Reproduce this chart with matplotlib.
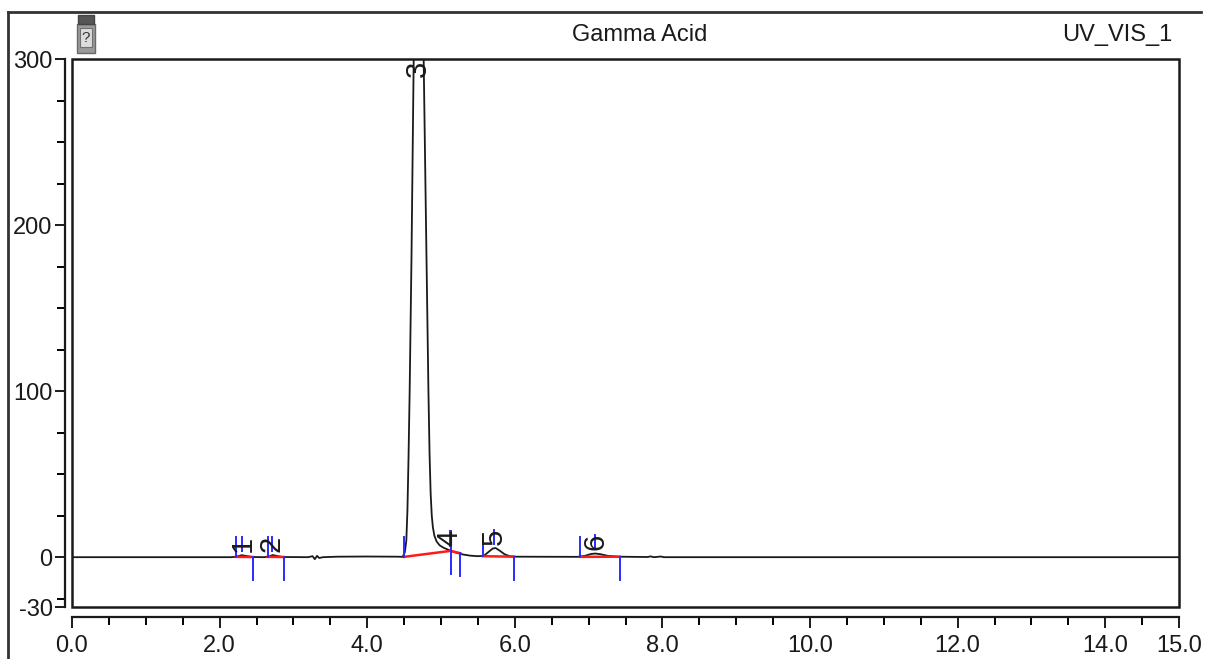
import matplotlib.pyplot as plt
from matplotlib.patches import Rectangle
from matplotlib.lines import Line2D

plt.rcParams['font.family'] = ['Liberation Sans', 'DejaVu Sans']

# chromatogram trace (min, mAU)
trace_t = [0.0, 2.15, 2.22, 2.30, 2.38, 2.45, 2.60, 2.66, 2.72, 2.80, 2.87,
           3.20, 3.26, 3.29, 3.32, 3.35, 3.40, 3.60, 4.00, 4.40, 4.48,
           4.51, 4.53, 4.545, 4.56, 4.575, 4.60, 4.63, 4.68, 4.73, 4.765,
           4.797, 4.83, 4.845, 4.86, 4.875, 4.89, 4.91, 4.94, 4.98, 5.03,
           5.09, 5.15, 5.22, 5.30, 5.40, 5.50, 5.58, 5.64, 5.70, 5.74,
           5.80, 5.86, 5.93, 6.00, 6.85, 6.95, 7.03, 7.09, 7.16, 7.26,
           7.40, 7.80, 7.84, 7.88, 7.98, 8.02, 8.30, 15.0]
trace_y = [0.0, 0.0, 0.2, 1.2, 0.6, 0.1, 0.0, 0.3, 1.3, 0.5, 0.1,
           0.0, 0.6, -1.2, 0.8, -0.5, 0.0, 0.3, 0.4, 0.3, 0.2,
           3.0, 10.0, 28.0, 60.0, 99.0, 180.0, 300.0, 520.0, 410.0, 300.0,
           200.0, 99.0, 62.0, 38.0, 25.0, 18.0, 13.0, 9.5, 7.2, 5.8,
           4.6, 3.5, 2.5, 1.6, 0.9, 0.6, 0.8, 3.0, 5.2, 5.5,
           3.8, 1.8, 0.6, 0.3, 0.2, 0.8, 1.9, 2.2, 1.8, 0.8,
           0.3, 0.1, 0.5, 0.0, 0.4, 0.0, 0.0, 0.0]

peak_ids = ['1', '2', '3', '4', '5', '6']
peak_apex_t = [2.31, 2.71, 4.68, 5.12, 5.72, 7.09]
peak_apex_h = [1.2, 1.3, 520.0, 4.5, 5.5, 2.2]
peak_start_t = [2.22, 2.65, 4.50, 5.13, 5.565, 6.89]
peak_start_y = [0.2, 0.2, 0.2, 3.8, 0.6, 0.2]
peak_end_t = [2.45, 2.87, 5.13, 5.26, 5.99, 7.42]
peak_end_y = [0.1, 0.1, 3.8, 2.4, 0.3, 0.3]

x_major = [0.0, 2.0, 4.0, 6.0, 8.0, 10.0, 12.0, 14.0, 15.0]
x_minor = [i * 0.5 for i in range(31)]
y_major = [-30, 0, 100, 200, 300]
y_minor = [-25, 25, 50, 75, 125, 150, 175, 225, 250, 275]

W, H = 1210, 659
fig = plt.figure(figsize=(W / 100, H / 100), dpi=100)
ax = fig.add_axes([72 / W, 1 - 607 / H, (1179 - 72) / W, (607 - 59) / H])

ax.plot(trace_t, trace_y, color='#1a1a1a', lw=1.3, zorder=3)

for i in range(len(peak_ids)):
    ax.plot([peak_start_t[i], peak_end_t[i]], [peak_start_y[i], peak_end_y[i]],
            color='#ff1a1a', lw=1.8, zorder=4)
    ax.plot([peak_start_t[i], peak_start_t[i]], [peak_start_y[i], peak_start_y[i] + 12],
            color='#2a2aff', lw=1.4, zorder=5)
    ax.plot([peak_end_t[i], peak_end_t[i]], [peak_end_y[i], peak_end_y[i] - 14],
            color='#2a2aff', lw=1.4, zorder=5)
    h = peak_apex_h[i]
    if h < 300:
        ax.plot([peak_apex_t[i], peak_apex_t[i]], [h + 2.5, h + 11],
                color='#2a2aff', lw=1.4, zorder=5)
        ax.text(peak_apex_t[i], h + 2.0, peak_ids[i], rotation=90, ha='center',
                va='bottom', fontsize=21, color='#1a1a1a', zorder=6)
    else:
        ax.text(peak_apex_t[i], 299, peak_ids[i], rotation=90, ha='center',
                va='top', fontsize=21, color='#1a1a1a', zorder=6)

ax.set_xlim(0, 15)
ax.set_ylim(-30, 300)

for s in ['top', 'right']:
    ax.spines[s].set_visible(False)
ax.spines['left'].set_position(('outward', 5))
ax.spines['bottom'].set_position(('outward', 7.5))
for s in ['left', 'bottom']:
    ax.spines[s].set_linewidth(1.6)
    ax.spines[s].set_color('#1a1a1a')
ax.add_patch(Rectangle((0, 0), 1, 1, transform=ax.transAxes, fill=False,
                       lw=1.8, edgecolor='#1a1a1a', clip_on=False, zorder=2))

ax.set_xticks(x_major)
ax.set_xticklabels(['%.1f' % v for v in x_major])
ax.set_xticks(x_minor, minor=True)
ax.set_yticks(y_major)
ax.set_yticklabels([str(v) for v in y_major])
ax.set_yticks(y_minor, minor=True)
ax.tick_params(axis='x', which='major', direction='out', length=8, width=1.4,
               labelsize=17, pad=5, colors='#1a1a1a')
ax.tick_params(axis='x', which='minor', direction='out', length=5.5, width=1.4)
ax.tick_params(axis='y', which='major', direction='out', length=7, width=1.4,
               labelsize=17, pad=2, colors='#1a1a1a')
ax.tick_params(axis='y', which='minor', direction='out', length=6, width=1.4)

# outer frame (top and left only)
fig.add_artist(Line2D([8 / W, 1201 / W], [1 - 12 / H, 1 - 12 / H], color='#333333', lw=2))
fig.add_artist(Line2D([8 / W, 8 / W], [1 - 12 / H, 0], color='#333333', lw=2))

# little vial icon
fig.add_artist(Rectangle((77 / W, 1 - 53 / H), 18 / W, 29 / H, facecolor='#9a9a9a',
                         edgecolor='#6a6a6a', lw=1))
fig.add_artist(Rectangle((78 / W, 1 - 24 / H), 16 / W, 9 / H, facecolor='#555555',
                         edgecolor='#444444', lw=1))
fig.add_artist(Rectangle((80 / W, 1 - 47 / H), 12 / W, 19 / H, facecolor='#dcdcdc',
                         edgecolor='#707070', lw=0.8))
fig.text(86 / W, 1 - 38 / H, '?', ha='center', va='center', fontsize=11, color='#333333')

fig.text(640 / W, 1 - 35 / H, 'Gamma Acid', ha='center', va='center', fontsize=17,
         color='#1a1a1a')
fig.text(1172 / W, 1 - 35 / H, 'UV_VIS_1', ha='right', va='center', fontsize=17,
         color='#1a1a1a')

plt.savefig('out.png', dpi=100)
